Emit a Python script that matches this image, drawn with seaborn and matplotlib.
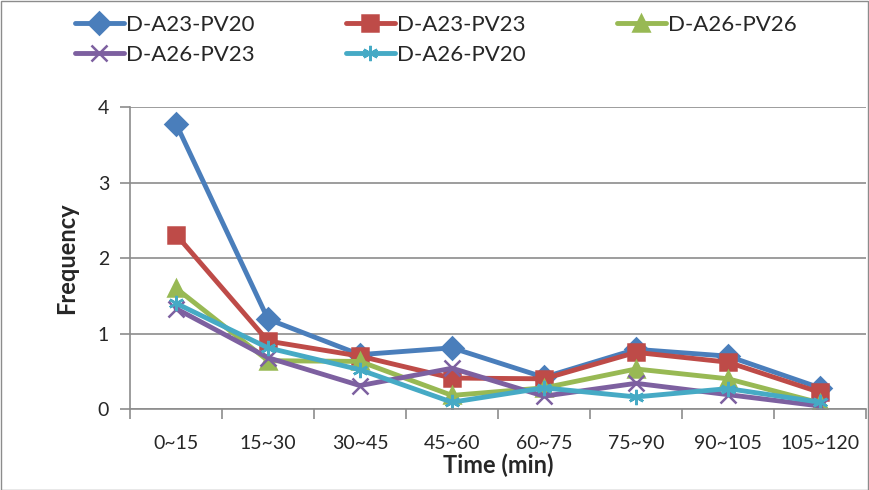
import pandas as pd
import seaborn as sns
import matplotlib.pyplot as plt
from matplotlib.patches import Rectangle

categories = ["0~15", "15~30", "30~45", "45~60", "60~75", "75~90", "90~105", "105~120"]
a23_pv20 = [3.78, 1.19, 0.72, 0.81, 0.42, 0.79, 0.70, 0.28]
a23_pv23 = [2.31, 0.90, 0.70, 0.41, 0.40, 0.75, 0.62, 0.22]
a26_pv26 = [1.60, 0.64, 0.63, 0.18, 0.28, 0.53, 0.40, 0.08]
a26_pv23 = [1.33, 0.68, 0.31, 0.54, 0.17, 0.34, 0.19, 0.04]
a26_pv20 = [1.40, 0.81, 0.52, 0.09, 0.28, 0.16, 0.27, 0.09]

series = {
    "D-A23-PV20": a23_pv20,
    "D-A23-PV23": a23_pv23,
    "D-A26-PV26": a26_pv26,
    "D-A26-PV23": a26_pv23,
    "D-A26-PV20": a26_pv20,
}
colors = {
    "D-A23-PV20": "#4A7EBB",
    "D-A23-PV23": "#BE4B48",
    "D-A26-PV26": "#98B954",
    "D-A26-PV23": "#7D60A0",
    "D-A26-PV20": "#46AAC5",
}
markers = {
    "D-A23-PV20": "D",
    "D-A23-PV23": "s",
    "D-A26-PV26": "^",
    "D-A26-PV23": "x",
    "D-A26-PV20": (6, 2, 0),
}

sns.set_style("white")
plt.rcParams["font.family"] = ["Lato", "DejaVu Sans"]

fig = plt.figure(figsize=(8.7, 4.9), dpi=100)
ax = fig.add_axes([130 / 870, 1 - 409 / 490, 736 / 870, 302 / 490])

for name, vals in series.items():
    df = pd.DataFrame({"Time": categories, "Frequency": vals})
    sns.lineplot(data=df, x="Time", y="Frequency", color=colors[name],
                 marker=markers[name], linewidth=3.5, markersize=11,
                 markeredgewidth=1.8, markeredgecolor=colors[name],
                 sort=False, ax=ax)

ax.set_xlim(-0.5, 7.5)
ax.set_ylim(0, 4)
ax.set_yticks([0, 1, 2, 3, 4])
ax.grid(axis="y", color="#8C8C8C", linewidth=1.2)
ax.set_axisbelow(True)
for s in ["top", "right"]:
    ax.spines[s].set_visible(False)
for s in ["left", "bottom"]:
    ax.spines[s].set_color("#8C8C8C")
    ax.spines[s].set_linewidth(1.2)

ax.set_xticks(range(len(categories)))
ax.set_xticklabels(categories)
ax.set_xticks([i - 0.5 for i in range(len(categories) + 1)], minor=True)
ax.tick_params(axis="x", which="major", length=0, pad=19, labelsize=14)
ax.tick_params(axis="x", which="minor", length=7, width=1.2, color="#8C8C8C", direction="out")
ax.tick_params(axis="y", length=7, width=1.2, color="#8C8C8C", direction="out", labelsize=14, pad=8)
ax.tick_params(bottom=True, left=True, which="both")

ax.set_xlabel("Time (min)", fontsize=17, fontweight="bold", labelpad=1)
ax.set_ylabel("Frequency", fontsize=17, fontweight="bold", labelpad=14)

order = ["D-A23-PV20", "D-A26-PV23", "D-A23-PV23", "D-A26-PV20", "D-A26-PV26"]
handles = [plt.Line2D([], [], color=colors[n], marker=markers[n], linewidth=3.5,
                      markersize=11, markeredgewidth=1.8, markeredgecolor=colors[n])
           for n in order]
fig.legend(handles, order, loc="upper left", bbox_to_anchor=(55 / 870, 1 + 5 / 490),
           ncol=3, frameon=False, fontsize=16, handlelength=2.2, handletextpad=0.1,
           columnspacing=4.1, labelspacing=0.45)

fig.patches.append(Rectangle((0.001, 0.001), 0.997, 0.997, transform=fig.transFigure,
                             fill=False, edgecolor="#8C8C8C", linewidth=1))

fig.savefig("out.png", dpi=100)
